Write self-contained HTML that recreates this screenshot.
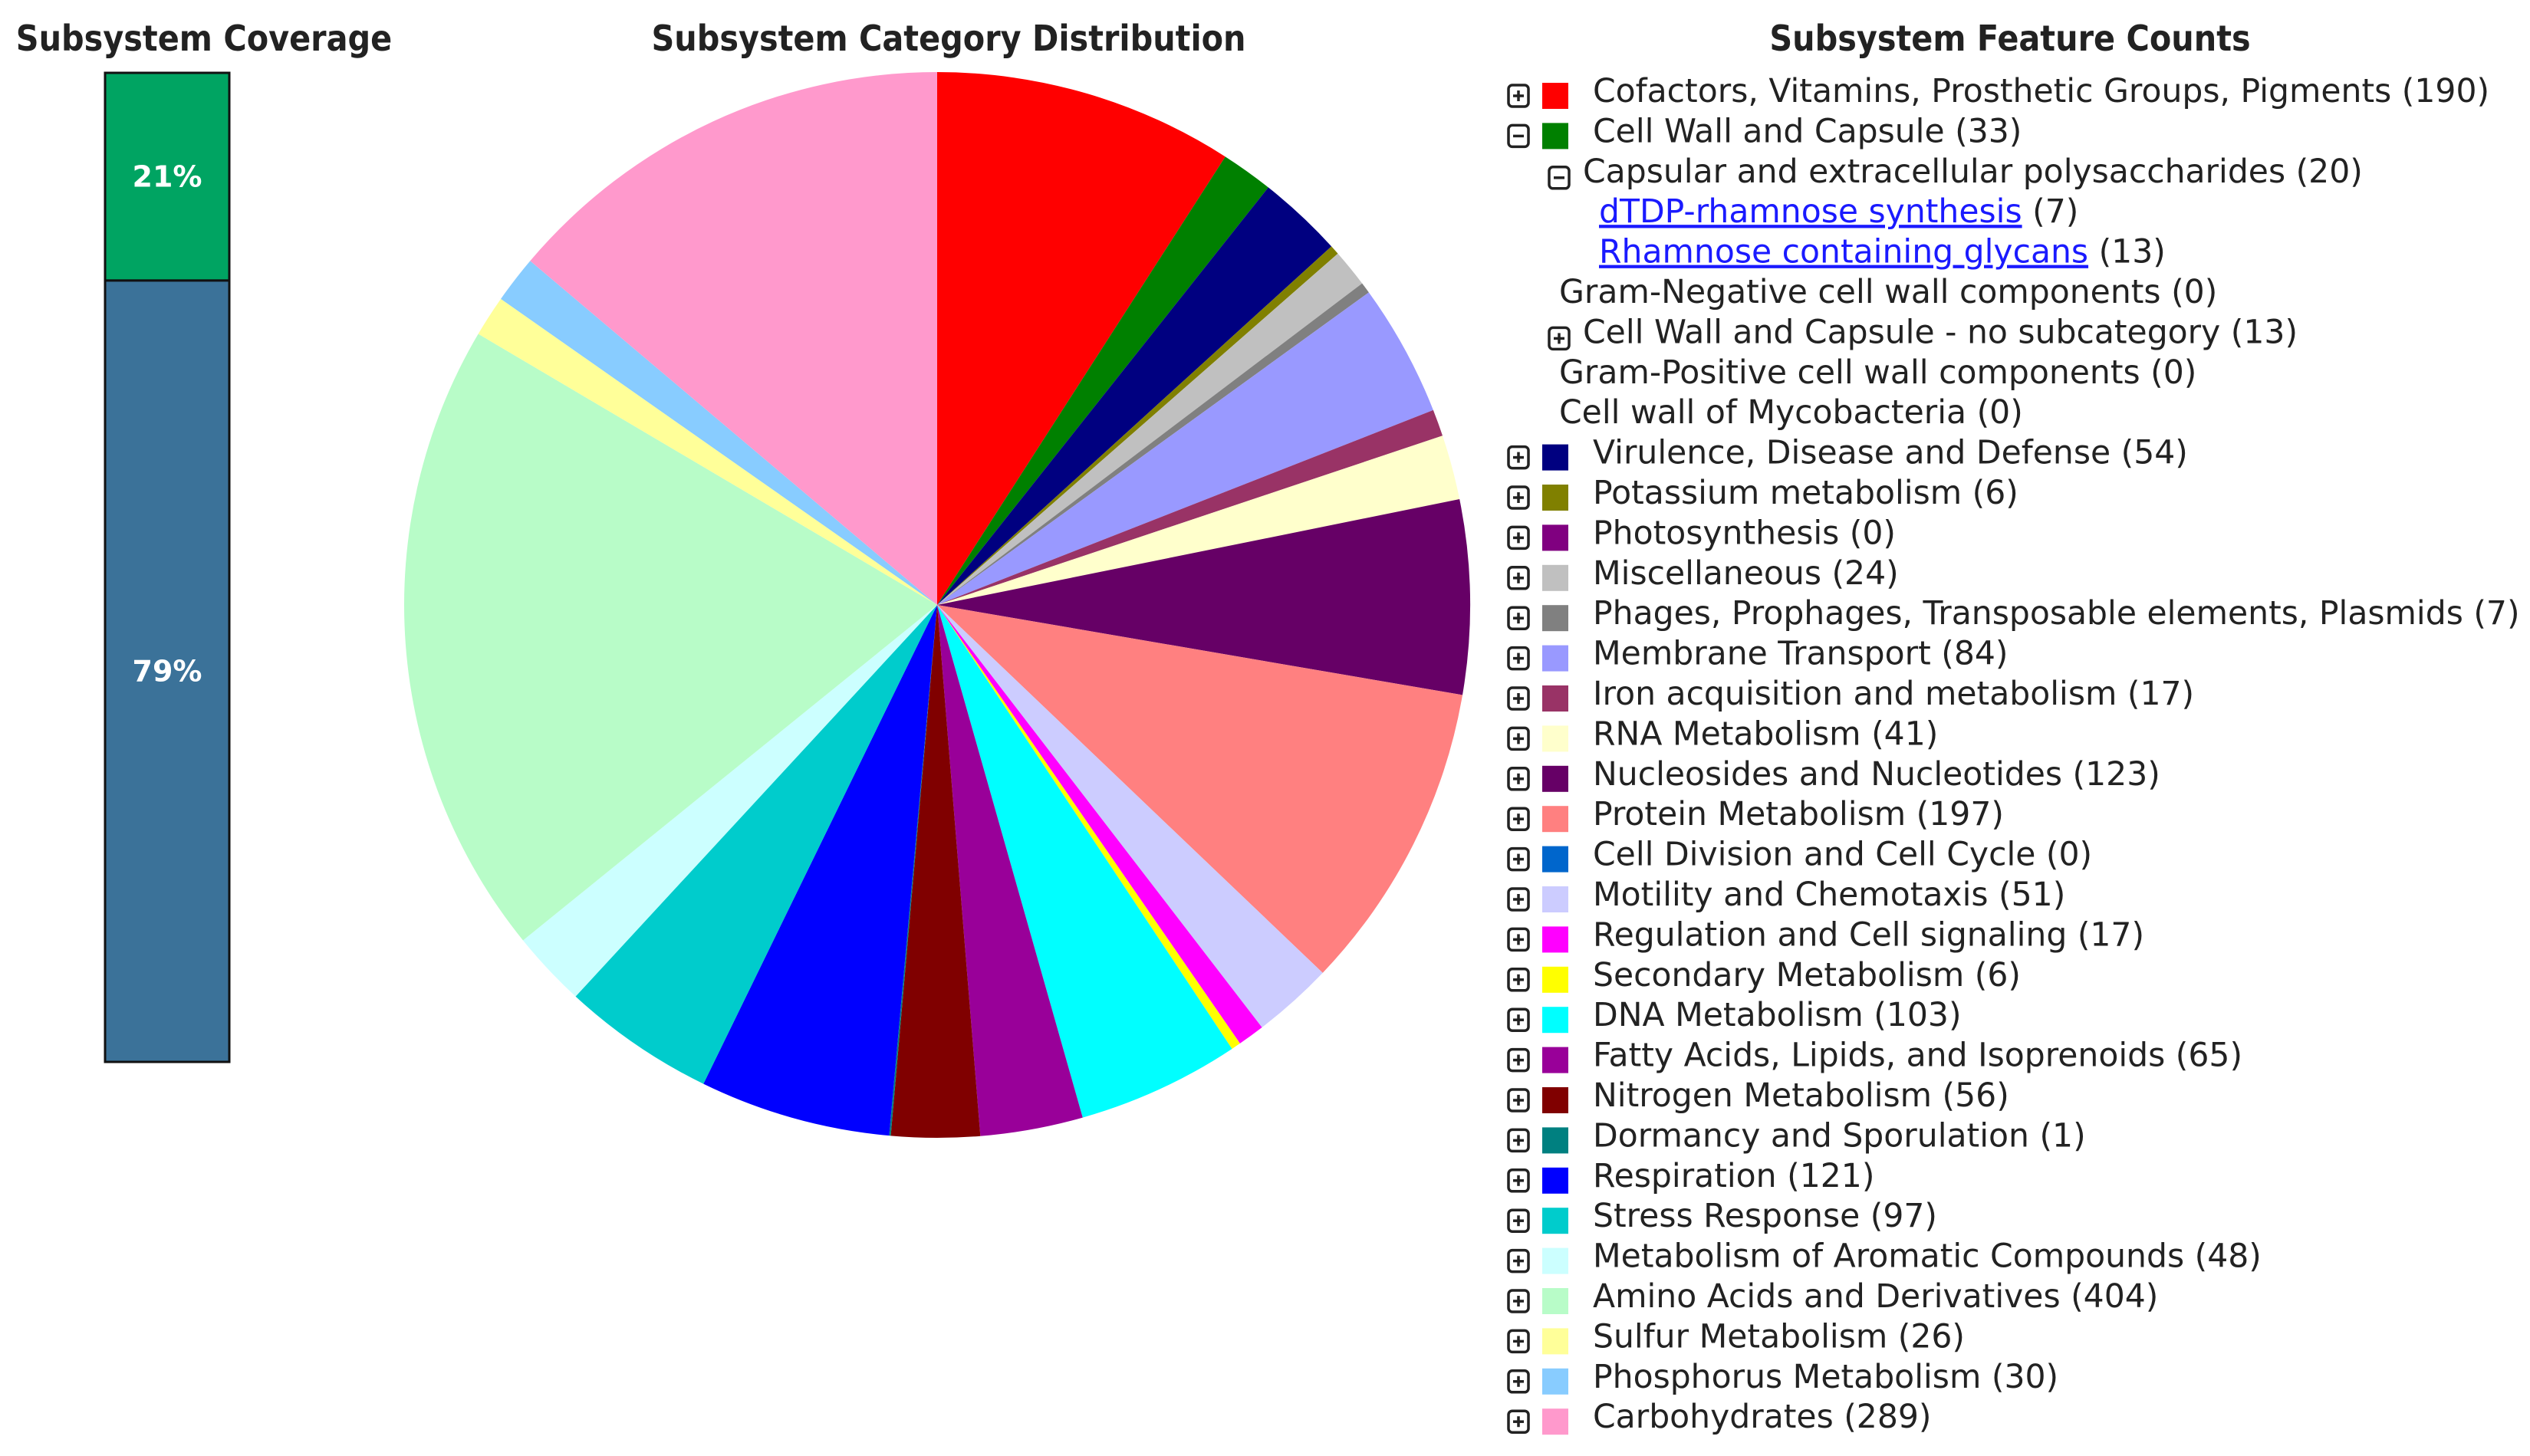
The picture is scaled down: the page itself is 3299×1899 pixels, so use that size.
<!DOCTYPE html>
<html><head><meta charset="utf-8"><style>
html,body{margin:0;padding:0;background:#fff;}
svg{display:block;}
text{font-family:"DejaVu Sans","Liberation Sans",sans-serif;}
.t{font-family:"DejaVu Sans Condensed","DejaVu Sans","Liberation Sans",sans-serif;}
</style></head><body>
<svg id="chart" width="3299" height="1899" viewBox="0 0 3299 1899">
<text class="t" x="266" y="66" text-anchor="middle" font-size="46" font-weight="bold" fill="#222">Subsystem Coverage</text>
<text class="t" x="1237" y="66" text-anchor="middle" font-size="46" font-weight="bold" fill="#222">Subsystem Category Distribution</text>
<text class="t" x="2621" y="66" text-anchor="middle" font-size="46" font-weight="bold" fill="#222">Subsystem Feature Counts</text>
<g id="coverage"></g>
<g id="pie"></g>
<g id="legend"></g>
</svg>
<script>
const NS="http://www.w3.org/2000/svg";
const coverageLabels=["21%","79%"];
const coverageValues=[21,79];
const categories=["Cofactors, Vitamins, Prosthetic Groups, Pigments","Cell Wall and Capsule","Virulence, Disease and Defense","Potassium metabolism","Photosynthesis","Miscellaneous","Phages, Prophages, Transposable elements, Plasmids","Membrane Transport","Iron acquisition and metabolism","RNA Metabolism","Nucleosides and Nucleotides","Protein Metabolism","Cell Division and Cell Cycle","Motility and Chemotaxis","Regulation and Cell signaling","Secondary Metabolism","DNA Metabolism","Fatty Acids, Lipids, and Isoprenoids","Nitrogen Metabolism","Dormancy and Sporulation","Respiration","Stress Response","Metabolism of Aromatic Compounds","Amino Acids and Derivatives","Sulfur Metabolism","Phosphorus Metabolism","Carbohydrates"];
const counts=[190,33,54,6,0,24,7,84,17,41,123,197,0,51,17,6,103,65,56,1,121,97,48,404,26,30,289];
const colors=["#ff0000","#008000","#000080","#808000","#800080","#c0c0c0","#808080","#9999ff","#993366","#ffffcc","#660066","#ff8080","#0066cc","#ccccff","#ff00ff","#ffff00","#00ffff","#990099","#800000","#008080","#0000ff","#00cccc","#ccffff","#b8fcc8","#ffff99","#88ccff","#ff99cc"];
function mk(tag,attrs,parent){const e=document.createElementNS(NS,tag);for(const k in attrs)e.setAttribute(k,attrs[k]);parent.appendChild(e);return e;}

const cov=document.getElementById('coverage');
const barX=137,barW=162,barTop=95,barBot=1385;
const covColors=["#00a462","#3b7299"];
let cy=barTop;const covTot=coverageValues.reduce((a,b)=>a+b,0);
coverageValues.forEach((v,i)=>{
  const h=(barBot-barTop)*v/covTot;
  const r=mk('rect',{x:barX,y:cy,width:barW,height:h,fill:covColors[i],stroke:"#111","stroke-width":3},cov);
  
  
  const t=mk('text',{x:barX+barW/2,y:cy+h/2+13,"text-anchor":"middle","font-size":38,"font-weight":"bold",fill:"#fff"},cov);
  t.textContent=coverageLabels[i];
  
  
  cy+=h;
});

const pie=document.getElementById('pie');
const cx=1222,pcy=789,R=695;
const total=counts.reduce((a,b)=>a+b,0);
let ang=0;
counts.forEach((v,i)=>{
  if(v<=0)return;
  const a0=ang,a1=ang+v/total*2*Math.PI;ang=a1;
  const x0=cx+R*Math.sin(a0),y0=pcy-R*Math.cos(a0),x1=cx+R*Math.sin(a1),y1=pcy-R*Math.cos(a1);
  const large=(a1-a0)>Math.PI?1:0;
  const p=mk('path',{d:`M${cx},${pcy} L${x0},${y0} A${R},${R} 0 ${large} 1 ${x1},${y1} Z`,fill:colors[i]},pie);
  
  
});

const lg=document.getElementById('legend');
const y0=133,step=52.4,fs=42.5;
function icon(x,yb,minus){
  const g=mk('g',{},lg);
  mk('rect',{x:x,y:yb-30,width:26,height:28,rx:5,fill:"#fff",stroke:"#222","stroke-width":3.5},g);
  mk('line',{x1:x+6,y1:yb-16,x2:x+20,y2:yb-16,stroke:"#222","stroke-width":3.5},g);
  if(!minus)mk('line',{x1:x+13,y1:yb-23,x2:x+13,y2:yb-9,stroke:"#222","stroke-width":3.5},g);
  
  
}
function txt(x,yb,s,fill,under){
  const t=mk('text',{x:x,y:yb,"font-size":fs,fill:fill||"#222"},lg);
  if(under)t.setAttribute('text-decoration','underline');
  t.textContent=s;return t;
}
function catRow(idx,row,minus){
  const yb=y0+row*step;
  icon(1967,yb+8,minus);
  const r=mk('rect',{x:2011,y:yb-25,width:34,height:34,fill:colors[idx]},lg);
  
  
  const t=txt(2077,yb,categories[idx]+" ("+counts[idx]+")");
  
  
}
catRow(0,0,false);
catRow(1,1,true);
let yb=y0+2*step;icon(2020,yb+10,true);
let t=txt(2064,yb,"Capsular and extracellular polysaccharides (20)");

yb=y0+3*step;
t=mk('text',{x:2085,y:yb,"font-size":fs},lg);
t.innerHTML='<tspan fill="#1a1aff" text-decoration="underline">dTDP-rhamnose synthesis</tspan><tspan fill="#222"> (7)</tspan>';

yb=y0+4*step;
t=mk('text',{x:2085,y:yb,"font-size":fs},lg);
t.innerHTML='<tspan fill="#1a1aff" text-decoration="underline">Rhamnose containing glycans</tspan><tspan fill="#222"> (13)</tspan>';

t=txt(2033,y0+5*step,"Gram-Negative cell wall components (0)");

yb=y0+6*step;icon(2020,yb+10,false);
t=txt(2064,yb,"Cell Wall and Capsule - no subcategory (13)");

t=txt(2033,y0+7*step,"Gram-Positive cell wall components (0)");

t=txt(2033,y0+8*step,"Cell wall of Mycobacteria (0)");

for(let i=2;i<categories.length;i++)catRow(i,7+i,false);
</script>
</body></html>
